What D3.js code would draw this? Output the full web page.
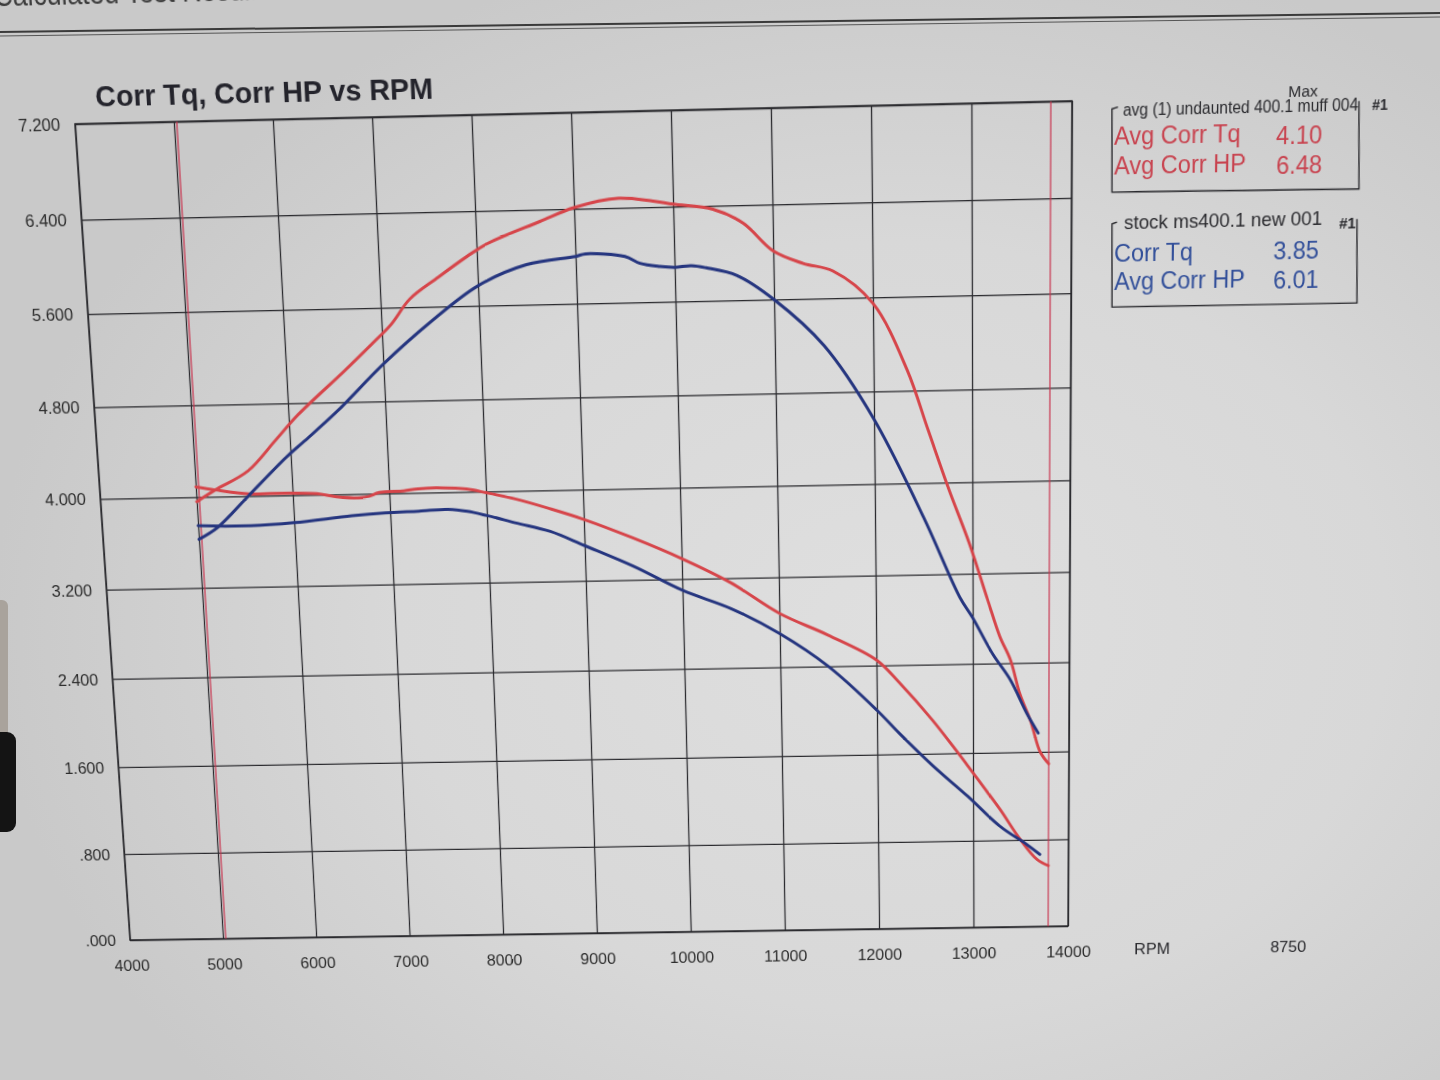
<!DOCTYPE html>
<html>
<head>
<meta charset="utf-8">
<script src="https://cdn.jsdelivr.net/npm/d3@7"></script>
<style>
  html, body { margin: 0; padding: 0; width: 1440px; height: 1080px; overflow: hidden; }
  body {
    background: radial-gradient(ellipse 900px 700px at 62% 58%, #dfdfdf 0%, #d8d8d8 55%, #c9c9c9 100%);
    font-family: "Liberation Sans", Arial, sans-serif;
  }
  #sheet { position: absolute; left: 0; top: 0; width: 1500px; height: 1100px; transform-origin: 0 0; }
  #sheet svg, #page svg { overflow: visible; }
  #page { position: absolute; left: 0; top: 0; }
</style>
</head>
<body>
<div id="sheet"></div>
<div id="page"></div>
<script>
// ---- data ----
var xTicks = [4000, 5000, 6000, 7000, 8000, 9000, 10000, 11000, 12000, 13000, 14000];
var yTicks = [0, 0.8, 1.6, 2.4, 3.2, 4.0, 4.8, 5.6, 6.4, 7.2];
var cursorRpm = [5030, 13790];

// red run: avg (1) undaunted 400.1 muff 004
var redHpRpm = [5000,5200,5550,5850,6100,6600,6900,7100,7300,7600,7900,8100,8650,9000,9450,9800,10000,10400,10700,11000,11300,11600,12000,12340,12550,12760,12970,13150,13280,13390,13490,13600,13700,13790];
var redHp    = [3.96,4.06,4.22,4.48,4.70,5.07,5.30,5.46,5.67,5.85,6.02,6.12,6.30,6.41,6.48,6.45,6.42,6.37,6.25,6.01,5.90,5.83,5.55,4.98,4.46,3.94,3.46,2.98,2.64,2.43,2.12,1.88,1.60,1.49];
var redTqRpm = [5000,5200,5550,5900,6250,6450,6750,6900,7150,7300,7550,7800,8000,8300,8650,9000,9500,10000,10500,11000,11500,12000,12230,12580,12940,13100,13280,13490,13670,13790];
var redTq    = [4.09,4.06,4.02,4.02,4.01,3.98,3.97,4.01,4.02,4.035,4.04,4.025,3.99,3.93,3.84,3.74,3.57,3.38,3.16,2.88,2.68,2.45,2.25,1.90,1.49,1.30,1.085,0.81,0.62,0.56];

// blue run: stock ms400.1 new 001
var blueHpRpm = [5000,5200,5550,5950,6150,6500,7000,7500,8000,8500,9000,9100,9500,9650,9850,10000,10170,10320,10630,11000,11500,12000,12500,12870,13000,13210,13390,13560,13680];
var blueHp    = [3.63,3.73,4.01,4.33,4.47,4.72,5.12,5.47,5.77,5.94,6.00,6.02,5.99,5.93,5.90,5.89,5.90,5.88,5.81,5.60,5.20,4.56,3.70,2.99,2.81,2.48,2.25,1.95,1.77];
var blueTqRpm = [5000,5550,6000,6600,6950,7300,7600,7800,8000,8300,8650,9000,9500,10000,10500,11000,11500,12000,12230,12580,12940,13280,13560,13700];
var blueTq    = [3.75,3.74,3.76,3.81,3.83,3.84,3.85,3.83,3.79,3.72,3.64,3.51,3.32,3.10,2.93,2.70,2.40,2.00,1.79,1.49,1.21,0.93,0.76,0.665];

var legendRed  = { head: "avg (1) undaunted 400.1 muff 004", rows: ["Avg Corr Tq", "Avg Corr HP"], vals: ["4.10", "6.48"] };
var legendBlue = { head: "stock ms400.1 new 001", rows: ["Corr Tq", "Avg Corr HP"], vals: ["3.85", "6.01"] };

var RED = "#d6454a", BLUE = "#25357f", RED_TXT = "#c8434f", BLUE_TXT = "#33509a", INK = "#2a2a2e";

// ---- photo perspective: flat sheet -> camera picture ----
function solveH(src, dst) {
  var A = [], b = [];
  for (var i = 0; i < 4; i++) {
    var u = src[i][0], v = src[i][1], x = dst[i][0], y = dst[i][1];
    A.push([u, v, 1, 0, 0, 0, -u * x, -v * x]); b.push(x);
    A.push([0, 0, 0, u, v, 1, -u * y, -v * y]); b.push(y);
  }
  for (var c = 0; c < 8; c++) {
    var p = c;
    for (var r = c + 1; r < 8; r++) if (Math.abs(A[r][c]) > Math.abs(A[p][c])) p = r;
    var t = A[c]; A[c] = A[p]; A[p] = t; t = b[c]; b[c] = b[p]; b[p] = t;
    for (r = 0; r < 8; r++) {
      if (r === c) continue;
      var f = A[r][c] / A[c][c];
      for (var k = c; k < 8; k++) A[r][k] -= f * A[c][k];
      b[r] -= f * b[c];
    }
  }
  return b.map(function(v, i) { return v / A[i][i]; });
}
function applyH(h, u, v) {
  var w = h[6] * u + h[7] * v + 1;
  return [(h[0] * u + h[1] * v + h[2]) / w, (h[3] * u + h[4] * v + h[5]) / w];
}

var L = 100, T = 120, W = 1000, H = 820;          // plot box on the flat sheet
var flatCorners  = [[L, T], [L + W, T], [L, T + H], [L + W, T + H]];
var photoCorners = [[75, 124], [1072, 101], [130, 940], [1068, 926]];
var Hm = solveH(flatCorners, photoCorners);
var Hinv = solveH(photoCorners, flatCorners);
var P = function(x, y) { return applyH(Hinv, x, y); };   // picture point -> sheet point

d3.select("#sheet").style("transform",
  "matrix3d(" + [Hm[0], Hm[3], 0, Hm[6], Hm[1], Hm[4], 0, Hm[7], 0, 0, 1, 0, Hm[2], Hm[5], 0, 1].join(",") + ")");

var svg = d3.select("#sheet").append("svg").attr("width", 1500).attr("height", 1100);

// ---- scales & grid ----
var x = d3.scaleLinear().domain([4000, 14000]).range([0, W]);
var y = d3.scaleLinear().domain([0, 7.2]).range([H, 0]);
var g = svg.append("g").attr("transform", "translate(" + L + "," + T + ")");

var fmtY = function(d) { return d3.format(".3f")(d).replace(/^0\./, "."); };

var yAxis = g.append("g").call(d3.axisLeft(y).tickValues(yTicks).tickSize(-W).tickPadding(15).tickFormat(fmtY));
var xAxis = g.append("g").attr("transform", "translate(0," + H + ")")
  .call(d3.axisBottom(x).tickValues(xTicks).tickSize(-H).tickPadding(21).tickFormat(d3.format("d")));
[yAxis, xAxis].forEach(function(a) {
  a.select(".domain").remove();
  a.selectAll(".tick line").attr("stroke", INK).attr("stroke-width", 1.3);
  a.selectAll(".tick text").attr("fill", "#2c2c2c").style("font-size", "17px")
    .style("font-family", "'Liberation Sans', Arial, sans-serif");
});
g.append("rect").attr("width", W).attr("height", H).attr("fill", "none").attr("stroke", INK).attr("stroke-width", 1.5);

// cursor lines
g.selectAll(".cursor").data(cursorRpm).enter().append("line")
  .attr("x1", function(d) { return x(d); }).attr("x2", function(d) { return x(d); })
  .attr("y1", 0).attr("y2", H).attr("stroke", "#c8334e").attr("stroke-width", 1.2);

// ---- curves ----
var series = [
  { rpm: redTqRpm, val: redTq, color: RED },
  { rpm: blueTqRpm, val: blueTq, color: BLUE },
  { rpm: redHpRpm, val: redHp, color: RED },
  { rpm: blueHpRpm, val: blueHp, color: BLUE }
];
var line = d3.line().x(function(d) { return x(d[0]); }).y(function(d) { return y(d[1]); })
  .curve(d3.curveCatmullRom.alpha(0.5));
g.selectAll(".run").data(series).enter().append("path")
  .attr("d", function(s) { return line(d3.zip(s.rpm, s.val)); })
  .attr("fill", "none").attr("stroke", function(s) { return s.color; })
  .attr("stroke-width", 3).attr("stroke-linejoin", "round").attr("stroke-linecap", "round");

// ---- texts placed where they sit in the picture ----
function txt(px, py, s, o) {
  o = o || {};
  var q = P(px, py);
  var t = svg.append("text").attr("x", q[0]).attr("y", q[1]).text(s)
    .attr("fill", o.fill || INK).attr("text-anchor", o.anchor || "start")
    .style("font-size", (o.size || 17) + "px").style("font-weight", o.weight || "normal")
    .style("font-family", "'Liberation Sans', Arial, sans-serif");
  if (o.len) t.attr("textLength", o.len).attr("lengthAdjust", "spacingAndGlyphs");
  return t;
}
function pline(pts) {
  svg.append("path").attr("d", d3.line()(pts.map(function(p) { return P(p[0], p[1]); })))
    .attr("fill", "none").attr("stroke", INK).attr("stroke-width", 1.4);
}

txt(96, 107, "Corr Tq, Corr HP vs RPM", { size: 28.5, weight: "bold", fill: "#24242c", len: 340 });
txt(1152, 954, "RPM", { anchor: "middle" });
txt(1288, 952, "8750", { anchor: "middle" });

// legend: red run
txt(1303, 97, "Max", { anchor: "middle", size: 15.5 });
txt(1123, 116, legendRed.head, { size: 16, len: 233 });
txt(1372, 110, "#1", { size: 14, weight: "bold" });
pline([[1118, 107], [1112, 109], [1112, 192], [1359, 189], [1359, 101]]);
txt(1114, 145, legendRed.rows[0], { size: 23.5, fill: RED_TXT });
txt(1114, 175, legendRed.rows[1], { size: 23.5, fill: RED_TXT });
txt(1276, 144, legendRed.vals[0], { size: 23.5, fill: RED_TXT });
txt(1276, 174, legendRed.vals[1], { size: 23.5, fill: RED_TXT });

// legend: blue run
txt(1124, 229, legendBlue.head, { size: 17.5, len: 198 });
txt(1339, 229, "#1", { size: 15, weight: "bold" });
pline([[1117, 222], [1112, 224], [1112, 307], [1357, 303], [1357, 219]]);
txt(1114, 262, legendBlue.rows[0], { size: 23.5, fill: BLUE_TXT });
txt(1114, 290, legendBlue.rows[1], { size: 23.5, fill: BLUE_TXT });
txt(1273, 259, legendBlue.vals[0], { size: 23.5, fill: BLUE_TXT });
txt(1273, 289, legendBlue.vals[1], { size: 23.5, fill: BLUE_TXT });

// page header, cut by the photo edge
txt(-6, 6, "Calculated Test Results", { size: 30, fill: "#3c3c3c", len: 278 });

// ---- things on the page itself (not on the sheet) ----
var page = d3.select("#page").append("svg").attr("width", 1440).attr("height", 1080);
page.append("line").attr("x1", 0).attr("y1", 32).attr("x2", 1440).attr("y2", 13)
  .attr("stroke", "#3a3a3a").attr("stroke-width", 2);
page.append("line").attr("x1", 0).attr("y1", 36).attr("x2", 1440).attr("y2", 17)
  .attr("stroke", "#555").attr("stroke-width", 1);
page.append("rect").attr("x", -12).attr("y", 600).attr("width", 20).attr("height", 140).attr("rx", 6)
  .attr("fill", "#a9a39c");
page.append("rect").attr("x", -12).attr("y", 732).attr("width", 28).attr("height", 100).attr("rx", 9)
  .attr("fill", "#141414");
</script>
</body>
</html>
